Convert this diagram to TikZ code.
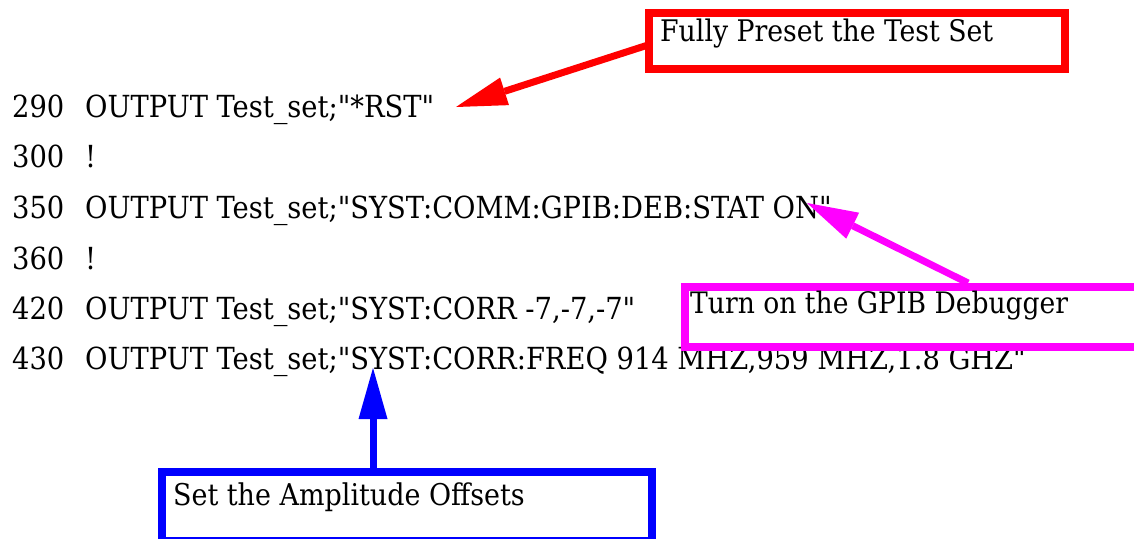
\documentclass[tikz,border=0pt]{standalone}
\usepackage{fontspec}
\setmainfont{DejaVu Serif Condensed}[Ligatures=TeXOff]
\usetikzlibrary{arrows.meta,calc}
\definecolor{calloutred}{RGB}{255,0,0}
\definecolor{calloutmagenta}{RGB}{255,0,255}
\definecolor{calloutblue}{RGB}{0,0,255}
\begin{document}
\begin{tikzpicture}[x=1pt,y=-1pt,
  codeline/.style={anchor=base west, inner sep=0pt, font=\fontsize{30.4}{36}\selectfont},
  notetext/.style={anchor=base west, inner sep=0pt},
  callout/.style={draw=#1, line width=8pt, anchor=north west, inner sep=0pt},
  pointer/.style={draw=#1, line width=7pt,
    -{Triangle[length=51pt, width=29pt, line width=0pt]}},
]
\clip (0,0) rectangle (1134,538);

% program listing
\newcommand{\lnum}[1]{\makebox[73pt][l]{#1}}
\node[codeline] (l290) at (12,117) {\lnum{290}OUTPUT Test\_set;"*RST"};
\node[codeline] (l300) at (12,167) {\lnum{300}!};
\node[codeline] (l350) at (12,218) {\lnum{350}OUTPUT Test\_set;"SYST:COMM:GPIB:DEB:STAT ON"};
\node[codeline] (l360) at (12,269) {\lnum{360}!};
\node[codeline] (l420) at (12,319) {\lnum{420}OUTPUT Test\_set;"SYST:CORR -7,-7,-7"};
\node[codeline] (l430) at (12,369) {\lnum{430}OUTPUT Test\_set;"SYST:CORR:FREQ 914 MHZ,959 MHZ,1.8 GHZ"};

% callout boxes
\node[callout=calloutred, minimum width=416pt, minimum height=56pt] (redbox) at (645,9) {};
\node[callout=calloutmagenta, minimum width=500pt, minimum height=60pt] (magbox) at (681,283) {};
\node[callout=calloutblue, minimum width=490pt, minimum height=69pt] (bluebox) at (157.5,467.5) {};

% callout texts
\node[notetext, font=\fontsize{29.7}{36}\selectfont] (redtext) at (660,41) {Fully Preset the Test Set};
\node[notetext, font=\fontsize{29.55}{36}\selectfont] (magtext) at (690,313) {Turn on the GPIB Debugger};
\node[notetext, font=\fontsize{29.95}{36}\selectfont] (bluetext) at (173,505) {Set the Amplitude Offsets};

% pointers into the listing
\coordinate (rsttip) at (456,107);
\coordinate (ontip) at (807,203);
\coordinate (freqtip) at (373,368);
\draw[pointer=calloutred] ($(redbox.north west)+(3,36)$) -- (rsttip);
\draw[pointer=calloutmagenta] ($(magbox.north west)+(287,0)$) -- (ontip);
\draw[pointer=calloutblue] ($(bluebox.north west)+(215.5,0)$) -- (freqtip);
\end{tikzpicture}
\end{document}
